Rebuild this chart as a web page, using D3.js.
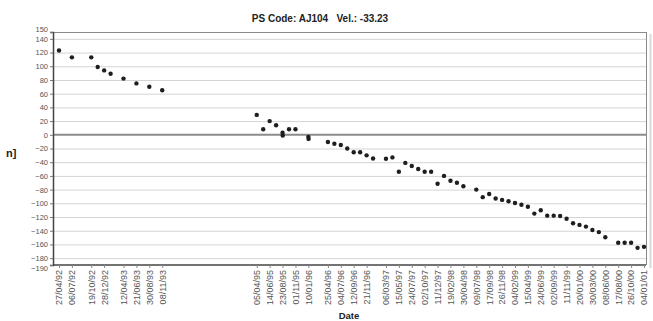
<!DOCTYPE html>
<html>
<head>
<meta charset="utf-8">
<script src="https://cdn.jsdelivr.net/npm/d3@7"></script>
<style>
    body { margin: 0; background: #fff; }
    svg { display: block; font-family: "Liberation Sans", Arial, sans-serif; }
</style>
</head>
<body>
<svg id="chart"></svg>
<script>
// measurement dates (dd/mm/yy) and displacement values
const dates = [
    "27/04/92", "06/07/92", "19/10/92", "23/11/92", "28/12/92", "01/02/93", "12/04/93", "21/06/93", "30/08/93", "08/11/93",
    "05/04/95", "10/05/95", "14/06/95", "19/07/95", "23/08/95", "24/08/95", "27/09/95", "01/11/95", "10/01/96", "11/01/96",
    "25/04/96", "30/05/96", "04/07/96", "08/08/96", "12/09/96", "17/10/96", "21/11/96", "26/12/96",
    "06/03/97", "10/04/97", "15/05/97", "19/06/97", "24/07/97", "28/08/97", "02/10/97", "06/11/97", "11/12/97",
    "15/01/98", "19/02/98", "26/03/98", "30/04/98", "09/07/98", "13/08/98", "17/09/98", "22/10/98", "26/11/98", "31/12/98",
    "04/02/99", "11/03/99", "15/04/99", "20/05/99", "24/06/99", "29/07/99", "02/09/99", "07/10/99", "11/11/99", "16/12/99",
    "20/01/00", "24/02/00", "30/03/00", "04/05/00", "08/06/00", "17/08/00", "21/09/00", "26/10/00", "30/11/00", "04/01/01"
];
const values = [
    123, 113, 113, 99, 94, 89, 82, 75, 70, 65,
    29, 8, 20, 14, 3, -1, 8, 8, -3, -6,
    -10.5, -13, -15, -20, -25.5, -25.5, -30, -34.5,
    -35, -33, -54, -41, -45.5, -50, -54, -54, -71.5,
    -60, -67, -70, -75, -80, -91, -86.5, -93, -95, -97,
    -99.5, -102, -105, -115, -110, -118, -118, -118.5, -122.5, -129,
    -131.5, -134, -139, -142, -149.5, -157.5, -157.5, -157.5, -165, -163.5
];

const tickLabels = [
    "27/04/92", "06/07/92", "19/10/92", "28/12/92", "12/04/93", "21/06/93", "30/08/93", "08/11/93",
    "05/04/95", "14/06/95", "23/08/95", "01/11/95", "10/01/96", "25/04/96", "04/07/96", "12/09/96", "21/11/96",
    "06/03/97", "15/05/97", "24/07/97", "02/10/97", "11/12/97", "19/02/98", "30/04/98", "09/07/98", "17/09/98",
    "26/11/98", "04/02/99", "15/04/99", "24/06/99", "02/09/99", "11/11/99", "20/01/00", "30/03/00", "08/06/00",
    "17/08/00", "26/10/00", "04/01/01"
];
const yTicks = [150, 140, 120, 100, 80, 60, 40, 20, 0, -20, -40, -60, -80, -100, -120, -140, -160, -180, -190];

const titleText = "PS Code: AJ104   Vel.: -33.23";

const width = 653;
const height = 321;
const plot = {left: 53, right: 646, top: 32, bottom: 265};

const parse = d3.timeParse("%d/%m/%y");
const data = dates.map((d, i) => ({date: parse(d), value: values[i]}));

const x = d3.scaleTime()
    .domain(d3.extent(data, d => d.date))
    .range([plot.left + 6, plot.right - 2]);

const y = d3.scaleLinear()
    .domain([-190, 150])
    .range([plot.bottom, plot.top]);

const svg = d3.select('#chart')
    .attr("width", width)
    .attr("height", height);

// gridlines
svg.append("g")
    .selectAll("line")
    .data(yTicks.filter(v => v !== 150 && v !== -190 && v !== 0))
    .join("line")
    .attr("x1", plot.left)
    .attr("x2", plot.right)
    .attr("y1", d => y(d) + 0.5)
    .attr("y2", d => y(d) + 0.5)
    .attr("stroke", "#d4d4d4")
    .attr("stroke-width", 1);

// zero line
svg.append("line")
    .attr("x1", plot.left)
    .attr("x2", plot.right)
    .attr("y1", y(0))
    .attr("y2", y(0))
    .attr("stroke", "#8c8c8c")
    .attr("stroke-width", 2);

// frame: top + right with a light shadow on the right
svg.append("line")
    .attr("x1", plot.left).attr("x2", plot.right)
    .attr("y1", plot.top + 0.5).attr("y2", plot.top + 0.5)
    .attr("stroke", "#8a8a8a");
svg.append("line")
    .attr("x1", plot.right + 0.5).attr("x2", plot.right + 0.5)
    .attr("y1", plot.top).attr("y2", plot.bottom)
    .attr("stroke", "#8a8a8a");
svg.append("line")
    .attr("x1", plot.right + 4.5).attr("x2", plot.right + 4.5)
    .attr("y1", plot.top + 2).attr("y2", plot.bottom + 3)
    .attr("stroke", "#d8d8d8")
    .attr("stroke-width", 2);

const yAxis = g => g
    .attr("transform", `translate(${plot.left},0)`)
    .call(d3.axisLeft(y).tickValues(yTicks).tickSize(3).tickPadding(2))
    .call(g => g.select(".domain").attr("stroke", "#444").attr("stroke-width", 1.5))
    .call(g => g.selectAll(".tick line").attr("stroke", "#777"))
    .call(g => g.selectAll(".tick text")
        .attr("fill", "#555")
        .attr("font-size", 7.5)
        .attr("font-family", "Liberation Sans, Arial, sans-serif")
        // the two end labels sit close to their neighbours; nudge them apart
        .attr("dy", d => d === 150 ? "-0.05em" : d === -190 ? "0.7em" : "0.32em"));

const xAxis = g => g
    .attr("transform", `translate(0,${plot.bottom})`)
    .call(d3.axisBottom(x)
        .tickValues(tickLabels.map(parse))
        .tickFormat(d3.timeFormat("%d/%m/%y"))
        .tickSize(3)
        .tickSizeOuter(0))
    .call(g => g.select(".domain")
        .attr("d", `M${plot.left},0H${plot.right}`)
        .attr("stroke", "#444")
        .attr("stroke-width", 1.5))
    .call(g => g.selectAll(".tick line").attr("stroke", "#888"))
    .call(g => g.selectAll(".tick text")
        .attr("fill", "#555")
        .attr("font-size", 9)
        .attr("font-family", "Liberation Sans, Arial, sans-serif")
        .attr("text-anchor", "end")
        .attr("dy", "0.32em")
        .attr("transform", "rotate(-90)")
        .attr("x", -5)
        .attr("y", 0));

svg.append("g").call(xAxis);
svg.append("g").call(yAxis);

// points
svg.append("g")
    .selectAll("circle")
    .data(data)
    .join("circle")
    .attr("cx", d => x(d.date))
    .attr("cy", d => y(d.value))
    .attr("r", 2.2)
    .attr("fill", "#1e1e1e");

// titles
svg.append("text")
    .attr("x", 320)
    .attr("y", 22)
    .attr("text-anchor", "middle")
    .attr("font-size", 10)
    .attr("font-weight", "bold")
    .attr("fill", "#222")
    .attr("xml:space", "preserve")
    .style("white-space", "pre")
    .text(titleText);

svg.append("text")
    .attr("x", 349)
    .attr("y", 319)
    .attr("text-anchor", "middle")
    .attr("font-size", 9.5)
    .attr("font-weight", "bold")
    .attr("fill", "#222")
    .text("Date");

svg.append("text")
    .attr("x", 6)
    .attr("y", 157)
    .attr("font-size", 11)
    .attr("font-weight", "bold")
    .attr("fill", "#222")
    .text("n]");
</script>
</body>
</html>
